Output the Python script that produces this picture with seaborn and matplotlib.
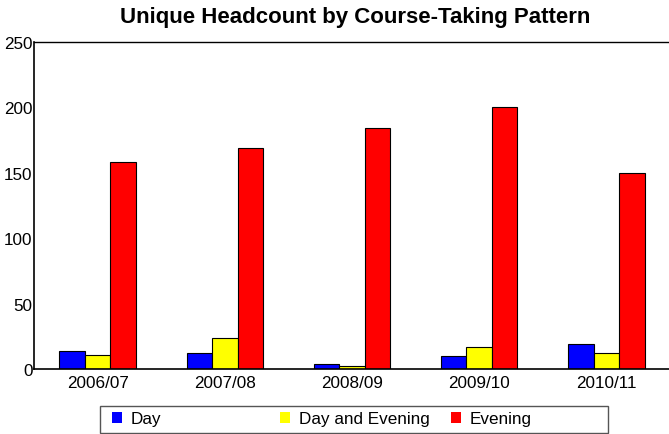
import matplotlib
matplotlib.use("Agg")
import matplotlib.pyplot as plt
import seaborn as sns
import pandas as pd
from matplotlib.patches import Rectangle, Patch

years = ["2006/07", "2007/08", "2008/09", "2009/10", "2010/11"]
day = [14, 12, 4, 10, 19]
day_evening = [11, 24, 2, 17, 12]
evening = [158, 169, 184, 200, 150]
series = ["Day", "Day and Evening", "Evening"]
colors = ["#0000FF", "#FFFF00", "#FF0000"]

rows = []
for name, vals in zip(series, [day, day_evening, evening]):
    for y, v in zip(years, vals):
        rows.append({"Year": y, "Pattern": name, "Count": v})
df = pd.DataFrame(rows)

sns.set_style("white")
plt.rcParams["font.family"] = ["Liberation Sans", "DejaVu Sans"]
plt.rcParams["text.color"] = "black"

fig = plt.figure(figsize=(6.69, 4.35), dpi=100)
ax = fig.add_axes([34 / 669, 65 / 435, 636 / 669, 327 / 435])

sns.barplot(data=df, x="Year", y="Count", hue="Pattern", order=years,
            hue_order=series, palette=colors, width=0.6, gap=0,
            edgecolor="black", linewidth=0.8, saturation=1, ax=ax,
            legend=False)

ax.set_xlim(-0.5, 4.5)
ax.set_ylim(0, 250)
ax.set_yticks([0, 50, 100, 150, 200, 250])
ax.set_xlabel("")
ax.set_ylabel("")
ax.tick_params(axis="both", length=0, labelsize=12.3, colors="black")
ax.tick_params(axis="y", pad=1)
ax.tick_params(axis="x", pad=4)
for s in ["left", "bottom", "top"]:
    ax.spines[s].set_visible(True)
    ax.spines[s].set_color("black")
ax.spines["right"].set_visible(False)
ax.spines["left"].set_linewidth(1.2)
ax.spines["bottom"].set_linewidth(1.2)
ax.spines["top"].set_linewidth(1.0)
ax.grid(False)

fig.text(355 / 669, 1 - 18 / 435, "Unique Headcount by Course-Taking Pattern",
         ha="center", va="center", fontsize=16, fontweight="bold",
         color="black")

# legend frame
fig.patches.append(Rectangle((100 / 669, 1 - 434 / 435), 508 / 669, 27 / 435,
                             transform=fig.transFigure, facecolor="white",
                             edgecolor="#555555", linewidth=1.0))
xs = [112, 280, 451]
for c, lab, x in zip(colors, series, xs):
    h = Patch(facecolor=c, edgecolor="none")
    fig.legend([h], [lab], loc="center left",
               bbox_to_anchor=(x / 669, 1 - 420 / 435), frameon=False,
               fontsize=12.3, handlelength=0.6, handleheight=0.6,
               handletextpad=0.5, borderaxespad=0, borderpad=0)

fig.savefig("out.png", dpi=100)
